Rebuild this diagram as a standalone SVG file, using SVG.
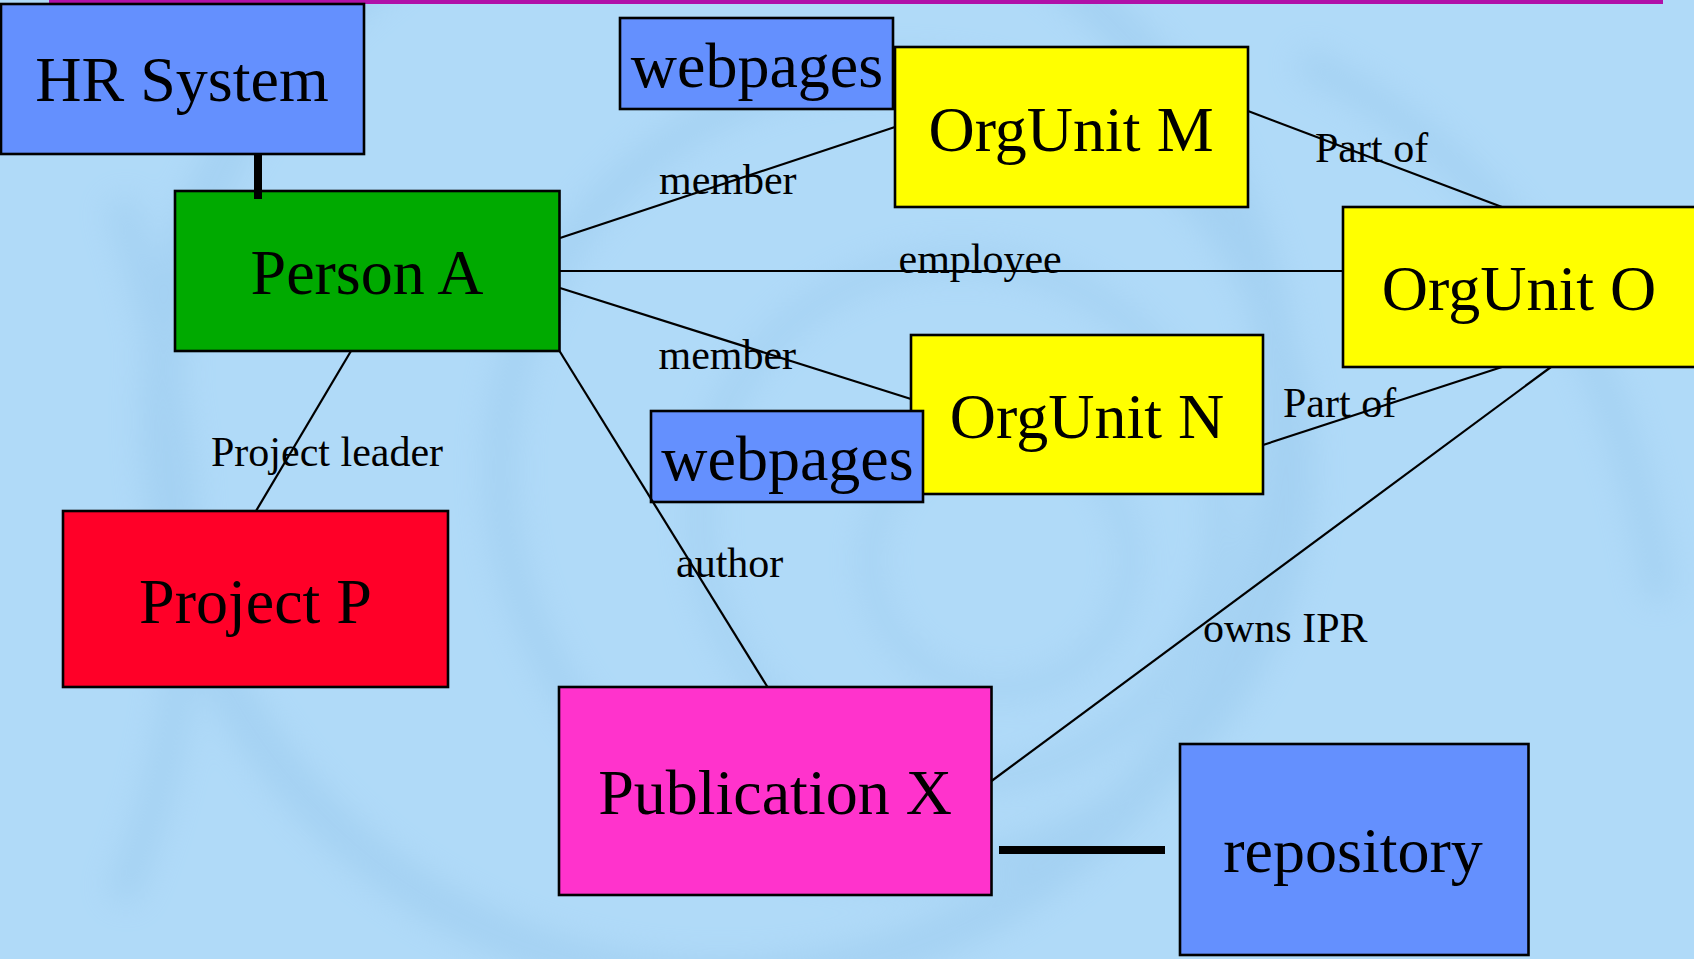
<svg xmlns="http://www.w3.org/2000/svg" width="1694" height="959" viewBox="0 0 1694 959">
  <style>
    .node rect { stroke: #000; stroke-width: 2.6; }
    .node text { font-family: "Liberation Serif", "Times New Roman", serif; font-size: 64px; fill: #000; text-anchor: middle; }
    .lbl { font-family: "Liberation Serif", "Times New Roman", serif; font-size: 42px; fill: #000; }
    .thin { stroke: #000; stroke-width: 2.2; fill: none; }
    .thick { stroke: #000; stroke-width: 8; fill: none; }
    .blue { fill: #6490fe; }
    .yellow { fill: #ffff00; }
  </style>
  <defs>
    <filter id="blur" x="-20%" y="-20%" width="140%" height="140%">
      <feGaussianBlur stdDeviation="16"/>
    </filter>
  </defs>
  <!-- background -->
  <rect x="0" y="0" width="1694" height="959" fill="#b0daf8"/>
  <g filter="url(#blur)" fill="none" stroke="#8cbfe6" opacity="0.32">
    <circle cx="720" cy="420" r="560" stroke-width="40"/>
    <circle cx="900" cy="470" r="400" stroke-width="30"/>
    <circle cx="960" cy="520" r="260" stroke-width="24"/>
    <circle cx="1000" cy="560" r="130" stroke-width="20"/>
    <path d="M 1300 60 Q 1600 200 1660 600" stroke-width="30"/>
    <path d="M 120 200 Q 250 600 120 900" stroke-width="30"/>
  </g>
  <rect x="49" y="0" width="1614" height="4" fill="#b010a8"/>

  <!-- nodes -->
  <g id="hr-system" class="node">
    <rect class="blue" x="1" y="4" width="363" height="150"/>
    <text x="182" y="101">HR System</text>
  </g>
  <g id="person-a" class="node">
    <rect x="175" y="191" width="384.5" height="160" fill="#00aa00"/>
    <text x="367" y="294">Person A</text>
  </g>
  <g id="webpages-m" class="node">
    <rect class="blue" x="620" y="18" width="273" height="91"/>
    <text x="757" y="87">webpages</text>
  </g>
  <g id="orgunit-m" class="node">
    <rect class="yellow" x="895" y="47" width="353" height="160"/>
    <text x="1071" y="151">OrgUnit M</text>
  </g>
  <g id="orgunit-o" class="node">
    <rect class="yellow" x="1343" y="207" width="353" height="160"/>
    <text x="1519" y="310">OrgUnit O</text>
  </g>
  <g id="orgunit-n" class="node">
    <rect class="yellow" x="911" y="335" width="352" height="159"/>
    <text x="1087" y="438">OrgUnit N</text>
  </g>
  <g id="webpages-n" class="node">
    <rect class="blue" x="651" y="411" width="272" height="91"/>
    <text x="787.5" y="480">webpages</text>
  </g>
  <g id="project-p" class="node">
    <rect x="63" y="511" width="385" height="176" fill="#ff0028"/>
    <text x="255.5" y="623">Project P</text>
  </g>
  <g id="publication-x" class="node">
    <rect x="559" y="687" width="432.5" height="208" fill="#ff33cc"/>
    <text x="775" y="814">Publication X</text>
  </g>
  <g id="repository" class="node">
    <rect class="blue" x="1180" y="744" width="348.5" height="211"/>
    <text x="1353" y="872">repository</text>
  </g>

  <!-- connectors -->
  <g id="connectors">
    <line class="thick" x1="258" y1="154" x2="258" y2="199"/>
    <line class="thick" x1="999" y1="850" x2="1165" y2="850"/>
    <line class="thin" x1="560" y1="238" x2="895" y2="127"/>
    <line class="thin" x1="560" y1="271" x2="1343" y2="271"/>
    <line class="thin" x1="560" y1="288" x2="911" y2="399"/>
    <line class="thin" x1="351" y1="351" x2="256" y2="511"/>
    <line class="thin" x1="559.5" y1="351" x2="767.5" y2="687"/>
    <line class="thin" x1="1248" y1="111" x2="1502" y2="207"/>
    <line class="thin" x1="1263" y1="445" x2="1502" y2="367"/>
    <line class="thin" x1="1551" y1="367" x2="991.5" y2="781"/>
    <text class="lbl" x="659" y="194">member</text>
    <text class="lbl" x="898.5" y="273">employee</text>
    <text class="lbl" x="658.5" y="369">member</text>
    <text class="lbl" x="211" y="466">Project leader</text>
    <text class="lbl" x="676" y="577">author</text>
    <text class="lbl" x="1315" y="162">Part of</text>
    <text class="lbl" x="1283" y="417">Part of</text>
    <text class="lbl" x="1203" y="642">owns IPR</text>
  </g>
</svg>
